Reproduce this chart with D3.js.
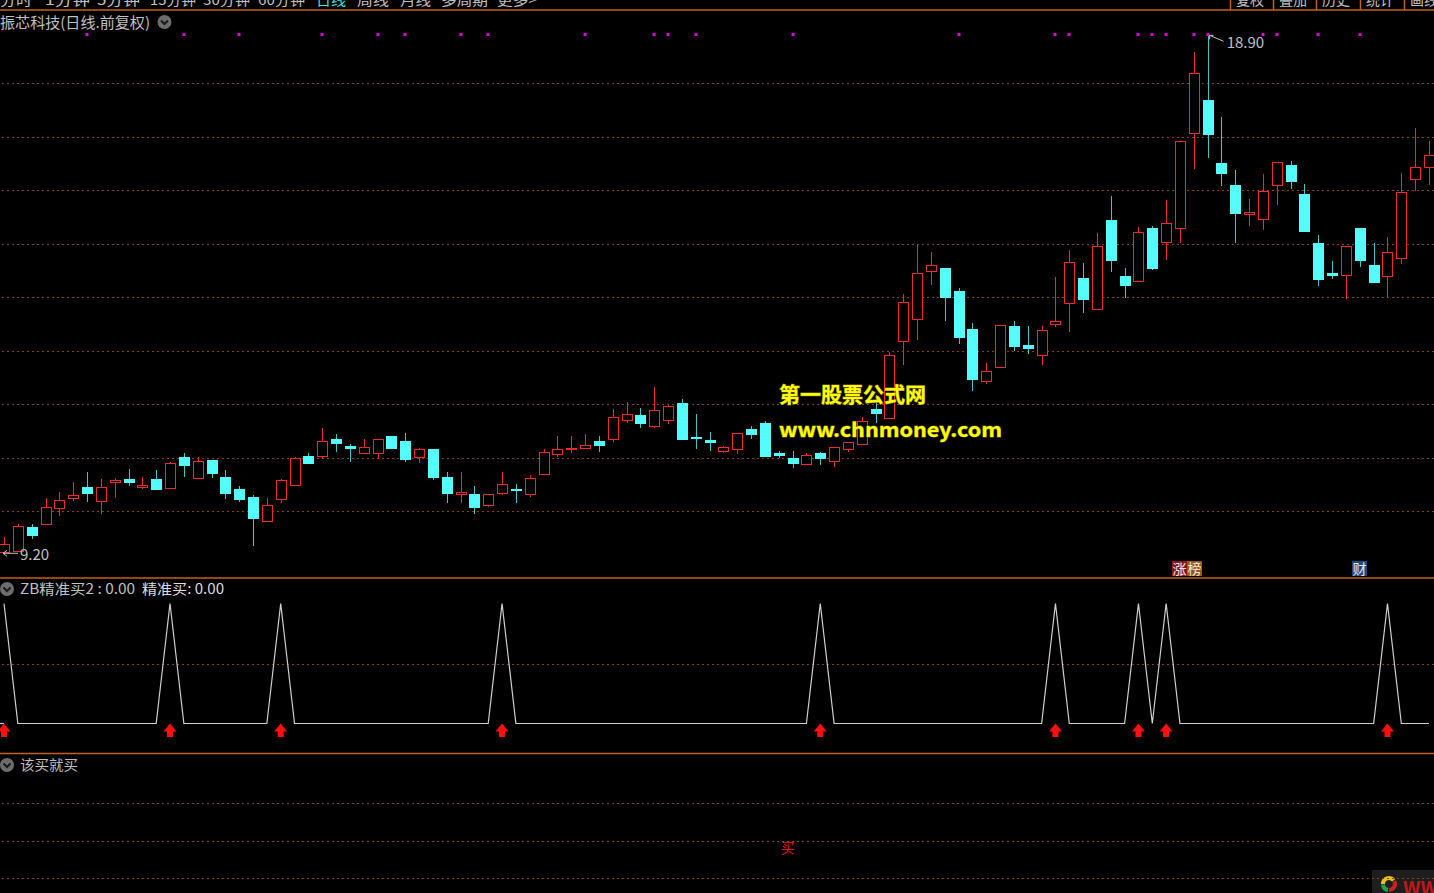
<!DOCTYPE html>
<html><head><meta charset="utf-8">
<script src="https://cdn.jsdelivr.net/npm/d3@7/dist/d3.min.js"></script>
<style>
html,body{margin:0;padding:0;background:#000;overflow:hidden}
svg{display:block}
text{font-family:"Noto Sans CJK SC","Noto Sans",sans-serif}
</style></head><body>
<svg id="c" width="1434" height="893"></svg>
<script>
// ---------- data ----------
const openP  = [9.25,9.27,9.71,9.77,10.07,10.25,10.45,10.19,10.55,10.60,10.45,10.60,10.43,11.02,10.63,10.97,10.65,10.42,10.27,9.82,
10.23,10.49,11.04,11.03,11.36,11.23,11.10,11.10,11.42,11.32,11.01,11.16,10.64,10.33,10.33,10.12,10.35,10.42,10.32,10.70,
11.08,11.16,11.19,11.32,11.36,11.71,11.81,11.59,11.71,12.02,11.40,11.34,11.14,11.16,11.54,11.65,11.09,11.00,10.89,11.09,
10.94,11.16,11.26,11.91,11.75,13.18,13.60,14.49,14.55,14.13,13.41,12.43,12.71,13.47,13.11,12.92,13.50,13.90,14.36,13.79,
15.45,14.40,14.30,15.29,15.04,15.30,17.08,17.70,16.51,16.11,15.56,15.47,16.10,16.48,15.93,15.01,14.45,14.42,15.29,14.61,
14.40,14.74,16.22,16.43];
const highP  = [9.53,9.77,9.76,10.25,10.36,10.55,10.74,10.60,10.62,10.79,10.65,10.77,10.93,11.09,11.02,10.97,10.77,10.48,10.30,10.25,
10.60,11.01,11.09,11.56,11.44,11.26,11.35,11.36,11.42,11.46,11.18,11.16,10.73,10.73,10.48,10.33,10.74,10.51,10.69,11.17,
11.42,11.42,11.44,11.42,11.91,12.04,11.93,12.33,12.00,12.11,11.82,11.48,11.22,11.46,11.60,11.70,11.13,11.14,11.09,11.12,
11.20,11.29,11.76,12.17,12.99,14.06,14.98,14.85,14.55,14.17,13.52,12.77,13.49,13.57,13.47,13.47,14.39,14.88,14.64,15.20,
15.90,14.55,15.31,15.34,15.83,16.93,18.59,18.90,17.37,16.39,15.85,16.30,16.53,16.56,16.12,15.16,14.69,14.96,15.29,15.01,
15.13,16.32,17.16,16.93];
const lowP   = [9.20,9.26,9.48,9.76,9.92,10.20,10.18,9.95,10.25,10.48,10.42,10.42,10.42,10.65,10.63,10.62,10.23,10.18,9.36,9.82,
10.16,10.49,10.88,10.98,11.12,10.93,11.08,10.98,11.16,10.93,10.91,10.58,10.16,10.16,9.95,10.08,10.30,10.15,10.28,10.70,
11.01,11.10,11.16,11.11,11.30,11.66,11.56,11.56,11.64,11.35,11.16,11.14,11.10,11.07,11.35,11.01,11.00,10.81,10.88,10.86,
10.84,11.12,11.26,11.66,11.75,12.73,13.20,14.23,13.57,13.13,12.26,12.38,12.71,13.00,12.94,12.73,13.45,13.36,13.71,13.79,
14.48,14.00,14.30,14.51,14.71,15.02,16.40,16.61,16.09,15.02,15.34,15.27,15.72,16.02,15.23,14.22,14.34,13.97,14.57,14.27,
14.01,14.62,16.00,16.10];
const closeP = [9.39,9.73,9.56,10.08,10.22,10.31,10.35,10.45,10.59,10.56,10.50,10.42,10.90,10.86,10.95,10.72,10.35,10.23,9.88,10.13,
10.58,11.00,10.91,11.32,11.28,11.19,11.20,11.36,11.19,10.98,11.16,10.65,10.35,10.36,10.09,10.33,10.52,10.40,10.62,11.11,
11.17,11.18,11.25,11.24,11.76,11.83,11.65,11.90,11.97,11.35,11.38,11.29,11.20,11.46,11.44,11.04,11.05,10.91,11.06,11.00,
11.20,11.29,11.70,11.84,12.93,13.92,14.45,14.61,14.01,13.27,12.48,12.62,13.49,13.09,13.06,13.40,13.57,14.66,13.97,14.96,
14.70,14.23,15.22,14.55,15.39,16.93,18.19,17.05,16.33,15.58,15.60,15.99,16.53,16.18,15.25,14.34,14.42,14.96,14.70,14.29,
14.85,15.97,16.43,16.67];
const dotIdx = [6,13,17,23,27,29,33,35,42,47,48,50,57,69,76,77,82,83,84,86,87,91,92,95,98];
const zbSignal = [0,12,20,36,59,76,82,84,100];
const buyIdx = [56];
const buyText = ["买"];
const gridPrices = [10,11,12,13,14,15,16,17,18];
const navLabels = ["分时","1分钟","5分钟","15分钟","30分钟","60分钟","日线","周线","月线","多周期","更多>"];
const navButtons = ["复权","叠加","历史","统计","画线"];
const mainTitle = "振芯科技(日线.前复权)";
const zbTitle1 = "ZB精准买2 : 0.00";
const zbTitle2 = "精准买: 0.00";
const buyTitle = "该买就买";
const eventTags = [{i:85, t:["涨","榜"]},{i:98, t:["财"]}];

// ---------- setup ----------
const svg = d3.select("#c");
svg.append("rect").attr("width",1434).attr("height",893).attr("fill","#000");
const N = openP.length;
const x = d3.scaleLinear().domain([0, N-1]).range([4, 1429]);
const yMain = d3.scaleLinear().domain([d3.min(lowP), d3.max(highP)]).range([554.3, 35.35]);
const yZB = d3.scaleLinear().domain([0,1]).range([723.5, 603.5]);
const yBuy = d3.scaleLinear().domain([0,1]).range([878.3, 803.3]);

const GRID = "#86460e", SEP = "#c2601c", RED = "#f02a2a", CYAN = "#54fcfc", CYANW = "#3cc8c8", TXT = "#c0c0c0";

// ---------- nav bar ----------
const navX = [0,45,97,150,203,258,316,357,400,441,497];
const navW = [32,45,43,46,47,47,30,32,31,47,40];
svg.append("g").selectAll("text").data(navLabels).join("text")
  .attr("x",(d,i)=>navX[i]).attr("y",5).attr("font-size",14)
  .attr("textLength",(d,i)=>navW[i]).attr("lengthAdjust","spacingAndGlyphs")
  .attr("fill",d=>d==="日线"?"#40e0e0":TXT).text(d=>d);
const btnEdges = [1230,1273,1316,1360,1404];
const gb = svg.append("g");
gb.selectAll("text").data(navButtons).join("text")
  .attr("x",(d,i)=>btnEdges[i]+6).attr("y",5).attr("font-size",14)
  .attr("fill",TXT).text(d=>d);
gb.selectAll("line").data(btnEdges).join("line")
  .attr("x1",d=>d+0.5).attr("x2",d=>d+0.5).attr("y1",0).attr("y2",10)
  .attr("stroke",SEP).attr("stroke-width",1.5);
svg.append("line").attr("x1",0).attr("x2",1434).attr("y1",10).attr("y2",10).attr("stroke",SEP).attr("stroke-width",1.5);

// ---------- grids ----------
const dash = "2,3";
const gridG = svg.append("g").attr("shape-rendering","crispEdges");
gridG.selectAll("line").data(gridPrices).join("line")
  .attr("x1",2).attr("x2",1434)
  .attr("y1",d=>Math.round(yMain(d))+0.5).attr("y2",d=>Math.round(yMain(d))+0.5)
  .attr("stroke",GRID).attr("stroke-width",1).attr("stroke-dasharray",dash);
svg.append("line").attr("x1",2).attr("x2",1434).attr("shape-rendering","crispEdges")
  .attr("y1",Math.round(yZB(0.5))+0.5).attr("y2",Math.round(yZB(0.5))+0.5)
  .attr("stroke",GRID).attr("stroke-width",1).attr("stroke-dasharray",dash);

// logo bottom right (under grid)
const logo = svg.append("g");
logo.append("rect").attr("x",1372).attr("y",870).attr("width",62).attr("height",23).attr("fill","#1e1e1e");
const arc = d3.arc();
logo.append("path").attr("transform","translate(1389,884)").attr("d",arc({innerRadius:4,outerRadius:8,startAngle:-1.6,endAngle:0.9})).attr("fill","#e8c020");
logo.append("path").attr("transform","translate(1389,884)").attr("d",arc({innerRadius:4,outerRadius:8,startAngle:3.3,endAngle:4.6})).attr("fill","#20a050");
logo.append("path").attr("transform","translate(1389,884)").attr("d",arc({innerRadius:4,outerRadius:8,startAngle:1.1,endAngle:3.1})).attr("fill","#d02020");
logo.append("text").attr("x",1403).attr("y",895).attr("font-size",19).attr("font-weight","bold")
  .attr("font-family","DejaVu Sans").attr("fill","#c01818").text("WW");

svg.append("g").attr("shape-rendering","crispEdges").selectAll("line").data([0,0.5,1]).join("line")
  .attr("x1",2).attr("x2",1434)
  .attr("y1",d=>Math.round(yBuy(d))+0.5).attr("y2",d=>Math.round(yBuy(d))+0.5)
  .attr("stroke",GRID).attr("stroke-width",1).attr("stroke-dasharray",dash);

// separators
svg.append("g").selectAll("line").data([578,753.5]).join("line")
  .attr("x1",0).attr("x2",1434).attr("y1",d=>d).attr("y2",d=>d)
  .attr("stroke",SEP).attr("stroke-width",1.5);

// ---------- candles ----------
const idx = d3.range(N);
const cg = svg.append("g").attr("shape-rendering","crispEdges");
idx.forEach(i=>{
  const o=openP[i], c=closeP[i], h=highP[i], l=lowP[i];
  const up = c >= o;
  const cx = Math.round(x(i)) + 0.5;
  const top = Math.round(yMain(Math.max(o,c)))+0.5, bot = Math.round(yMain(Math.min(o,c)))+0.5;
  const col = up ? RED : CYAN;
  const wcol = up ? RED : CYANW;
  cg.append("line").attr("x1",cx).attr("x2",cx).attr("y1",yMain(h)).attr("y2",top).attr("stroke",wcol);
  cg.append("line").attr("x1",cx).attr("x2",cx).attr("y1",bot).attr("y2",yMain(l)).attr("stroke",wcol);
  const hgt = Math.max(bot-top, 1);
  cg.append("rect").attr("x",cx-5).attr("y",top).attr("width",10).attr("height",hgt)
    .attr("fill", up ? "#000" : CYAN).attr("stroke",col).attr("stroke-width",1);
});

// magenta dots
svg.append("g").selectAll("rect").data(dotIdx).join("rect")
  .attr("x",d=>Math.round(x(d))-1.5).attr("y",33).attr("width",3).attr("height",3).attr("fill","#e000e0");

// max / min labels
const iMax = d3.maxIndex(highP), iMin = d3.minIndex(lowP);
const mx = x(iMax)+2, my = yMain(highP[iMax]);
svg.append("path").attr("d",`M${mx},${my} L${mx+14},${my+6} M${mx},${my} l0,4 M${mx},${my} l4,0`)
  .attr("stroke",TXT).attr("fill","none");
svg.append("text").attr("x",mx+17).attr("y",my+13).attr("font-size",15).attr("fill",TXT)
  .attr("font-family","Liberation Sans, sans-serif").text(d3.format(".2f")(highP[iMax]));
const nx = x(iMin)-1, ny = yMain(lowP[iMin])-1;
svg.append("path").attr("d",`M${nx},${ny} L${nx+15},${ny} M${nx},${ny} l4,-3 M${nx},${ny} l4,3`)
  .attr("stroke",TXT).attr("fill","none");
svg.append("text").attr("x",nx+17).attr("y",ny+7).attr("font-size",15).attr("fill",TXT)
  .attr("font-family","Liberation Sans, sans-serif").text(d3.format(".2f")(lowP[iMin]));

// titles
function icon(cx,cy){
  svg.append("circle").attr("cx",cx).attr("cy",cy).attr("r",7).attr("fill","#6c6c6c");
  svg.append("path").attr("d",`M${cx-3.5},${cy-1.5} L${cx},${cy+2} L${cx+3.5},${cy-1.5}`)
    .attr("stroke","#1a1a1a").attr("stroke-width",2).attr("fill","none");
}
svg.append("text").attr("x",0).attr("y",28).attr("font-size",15).attr("fill",TXT)
  .attr("textLength",150).attr("lengthAdjust","spacingAndGlyphs").text(mainTitle);
icon(164.5,22);
icon(7,589);
svg.append("text").attr("x",20).attr("y",594).attr("font-size",14).attr("fill",TXT)
  .attr("textLength",115).attr("lengthAdjust","spacingAndGlyphs").text(zbTitle1);
svg.append("text").attr("x",142).attr("y",594).attr("font-size",14).attr("fill","#dcdcdc")
  .attr("textLength",82).attr("lengthAdjust","spacingAndGlyphs").text(zbTitle2);
icon(7,765);
svg.append("text").attr("x",20).attr("y",770).attr("font-size",14).attr("fill",TXT)
  .attr("textLength",58).attr("lengthAdjust","spacingAndGlyphs").text(buyTitle);

// event tags
const tagCols = {"涨":"#8c1616","榜":"#9a5812","财":"#1c4a84"};
eventTags.forEach(e=>{
  e.t.forEach((ch,k)=>{
    const left = Math.round(x(e.i)) - 8 + k*15;
    svg.append("rect").attr("x",left).attr("y",561).attr("width",15).attr("height",15).attr("fill",tagCols[ch]);
    svg.append("text").attr("x",left+7.5).attr("y",574).attr("text-anchor","middle")
      .attr("font-size",14).attr("fill","#e8e8e8").text(ch);
  });
});

// watermark
svg.append("text").attr("x",779).attr("y",402).attr("font-size",21).attr("font-weight","bold")
  .attr("fill","#ffff00").attr("stroke","#7a6a00").attr("stroke-width",1).attr("paint-order","stroke")
  .attr("textLength",147).attr("lengthAdjust","spacingAndGlyphs").text("第一股票公式网");
svg.append("text").attr("x",779).attr("y",437).attr("font-size",20).attr("font-weight","bold")
  .attr("font-family","DejaVu Sans, sans-serif")
  .attr("fill","#ffff00").attr("stroke","#7a6a00").attr("stroke-width",1).attr("paint-order","stroke")
  .attr("textLength",223).attr("lengthAdjust","spacingAndGlyphs").text("www.chnmoney.com");

// ---------- ZB panel ----------
const zbVals = idx.map(i => zbSignal.includes(i) ? 1 : 0);
svg.append("path").datum(zbVals)
  .attr("d", d3.line().x((d,i)=>x(i)).y(d=>yZB(d)))
  .attr("fill","none").attr("stroke","#d0d0d0").attr("stroke-width",1.2);
svg.append("line").attr("x1",0).attr("x2",x(0)).attr("y1",yZB(0)).attr("y2",yZB(0)).attr("stroke","#d0d0d0").attr("stroke-width",1.2);
svg.append("g").selectAll("path").data(zbSignal).join("path")
  .attr("transform",d=>`translate(${x(d)},${yZB(0)})`)
  .attr("d","M0,0 L6.5,8 L3,8 L3,13.5 L-3,13.5 L-3,8 L-6.5,8 Z")
  .attr("fill","#ff1010");

// ---------- buy panel ----------
svg.append("g").selectAll("text").data(buyIdx).join("text")
  .attr("x",d=>x(d)+2).attr("y",yBuy(0.5)+12).attr("font-size",14).attr("fill","#e01010")
  .text((d,i)=>buyText[i]);
</script>
</body></html>
